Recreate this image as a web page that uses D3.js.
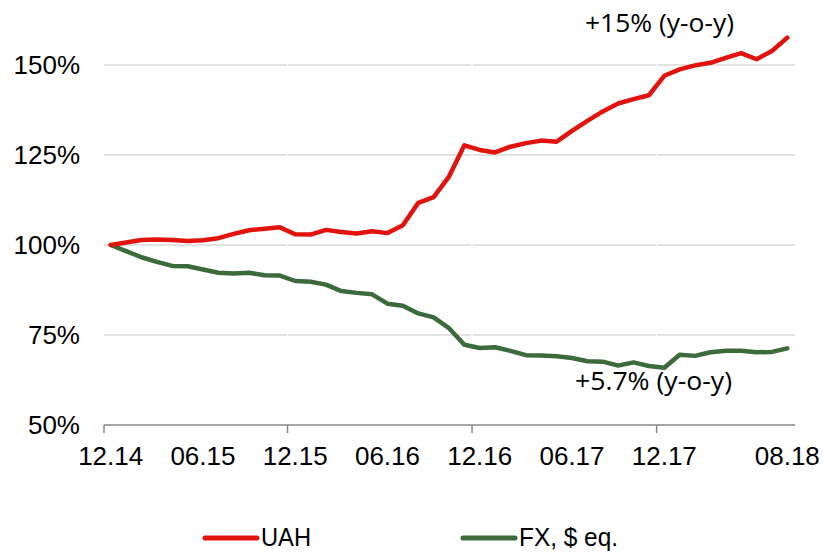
<!DOCTYPE html>
<html>
<head>
<meta charset="utf-8">
<script src="https://cdn.jsdelivr.net/npm/d3@7"></script>
<style>
    body { margin: 0; background: #fff; }
    svg { display: block; }
</style>
</head>
<body>
<div id="chart"></div>
<script>
// monthly index, Dec 2014 = 100%
const months = [
    "12.14","01.15","02.15","03.15","04.15","05.15","06.15","07.15","08.15","09.15","10.15","11.15",
    "12.15","01.16","02.16","03.16","04.16","05.16","06.16","07.16","08.16","09.16","10.16","11.16",
    "12.16","01.17","02.17","03.17","04.17","05.17","06.17","07.17","08.17","09.17","10.17","11.17",
    "12.17","01.18","02.18","03.18","04.18","05.18","06.18","07.18","08.18"
];
const uahValues = [
    100, 100.7, 101.4, 101.5, 101.4, 101.1, 101.3, 101.9, 103.1, 104.1, 104.5, 104.9,
    103.0, 102.9, 104.2, 103.6, 103.2, 103.8, 103.3, 105.5, 111.7, 113.3, 119.0, 127.7,
    126.4, 125.7, 127.3, 128.3, 129.0, 128.7, 131.7, 134.5, 137.1, 139.3, 140.5, 141.6,
    147.0, 148.8, 149.9, 150.6, 152.0, 153.3, 151.6, 153.9, 157.6
];
const fxValues = [
    100, 98.3, 96.6, 95.3, 94.2, 94.1, 93.2, 92.3, 92.1, 92.3, 91.6, 91.5,
    90.0, 89.8, 89.0, 87.2, 86.7, 86.3, 83.7, 83.1, 81.0, 79.9, 76.9, 72.3,
    71.4, 71.6, 70.6, 69.4, 69.3, 69.1, 68.6, 67.7, 67.6, 66.5, 67.4, 66.4,
    65.9, 69.5, 69.2, 70.2, 70.6, 70.6, 70.2, 70.3, 71.3
];
const yTicks = [50, 75, 100, 125, 150];
const xLabels = ["12.14", "06.15", "12.15", "06.16", "12.16", "06.17", "12.17", "08.18"];
const xTickMarks = ["12.14", "12.15", "12.16", "12.17"];
const seriesNames = ["UAH", "FX, $ eq."];
const notes = ["+15% (y-o-y)", "+5.7% (y-o-y)"];

const width = 823, height = 552;
const red = "#e2120c", green = "#3b6a3b";
const font = "'Liberation Sans', Arial, sans-serif";

const svg = d3.select("#chart").append("svg")
    .attr("width", width)
    .attr("height", height);

const x = d3.scaleBand().domain(months).range([103, 795]).padding(0);
const cx = m => x(m) + x.bandwidth() / 2;
const y = d3.scaleLinear().domain([50, 150]).range([425, 65]);

// gridlines
svg.append("g")
    .selectAll("line")
    .data(yTicks.filter(t => t > 50))
    .join("line")
    .attr("x1", 104).attr("x2", 795)
    .attr("y1", d => y(d)).attr("y2", d => y(d))
    .attr("stroke", "#d9d9d9")
    .attr("stroke-width", 1.3);

// small breaks in the gridlines at year boundaries
svg.append("g")
    .selectAll("line")
    .data(xTickMarks.slice(1))
    .join("line")
    .attr("x1", d => x(d)).attr("x2", d => x(d))
    .attr("y1", 60).attr("y2", 423)
    .attr("stroke", "#fff")
    .attr("stroke-width", 1.5);

// y labels
svg.append("g")
    .selectAll("text")
    .data(yTicks)
    .join("text")
    .attr("x", 80)
    .attr("y", d => y(d))
    .attr("dy", "0.36em")
    .attr("text-anchor", "end")
    .style("font-family", font)
    .style("font-size", "26px")
    .style("fill", "#000")
    .text(d => d + "%");

// x axis
const xAxis = svg.append("g");
xAxis.append("line")
    .attr("x1", 104).attr("x2", 795)
    .attr("y1", y(50)).attr("y2", y(50))
    .attr("stroke", "#888")
    .attr("stroke-width", 1.5);
xAxis.selectAll(".tick")
    .data(xTickMarks)
    .join("line")
    .attr("class", "tick")
    .attr("x1", d => Math.max(x(d), 104)).attr("x2", d => Math.max(x(d), 104))
    .attr("y1", y(50)).attr("y2", y(50) + 8)
    .attr("stroke", "#888")
    .attr("stroke-width", 1.5);
xAxis.selectAll("text")
    .data(xLabels)
    .join("text")
    .attr("x", d => cx(d))
    .attr("y", 465)
    .attr("text-anchor", "middle")
    .style("font-family", font)
    .style("font-size", "26px")
    .style("fill", "#000")
    .text(d => d);

// lines
const line = d3.line()
    .x((d, i) => cx(months[i]))
    .y(d => y(d));

[[fxValues, green], [uahValues, red]].forEach(([vals, color]) => {
    svg.append("path")
        .datum(vals)
        .attr("d", line)
        .attr("fill", "none")
        .attr("stroke", color)
        .attr("stroke-width", 4.5)
        .attr("stroke-linejoin", "round")
        .attr("stroke-linecap", "round");
});

// annotations
svg.append("text")
    .attr("x", 585).attr("y", 32)
    .attr("textLength", 149)
    .attr("lengthAdjust", "spacingAndGlyphs")
    .style("font-family", "'Open Sans', sans-serif")
    .style("font-size", "25px")
    .style("fill", "#000")
    .text(notes[0]);
svg.append("text")
    .attr("x", 575).attr("y", 390)
    .attr("textLength", 157)
    .attr("lengthAdjust", "spacingAndGlyphs")
    .style("font-family", "'Open Sans', sans-serif")
    .style("font-size", "25px")
    .style("fill", "#000")
    .text(notes[1]);

// legend
const legend = svg.append("g");
const legendX = [205, 463];
const legendW = [50, 99];
[red, green].forEach((color, i) => {
    legend.append("line")
        .attr("x1", legendX[i]).attr("x2", legendX[i] + 52)
        .attr("y1", 538).attr("y2", 538)
        .attr("stroke", color)
        .attr("stroke-width", 5)
        .attr("stroke-linecap", "round");
    legend.append("text")
        .attr("x", legendX[i] + 56)
        .attr("y", 546)
        .attr("textLength", legendW[i])
        .attr("lengthAdjust", "spacingAndGlyphs")
        .style("font-family", font)
        .style("font-size", "26px")
        .style("fill", "#000")
        .text(seriesNames[i]);
});
</script>
</body>
</html>
